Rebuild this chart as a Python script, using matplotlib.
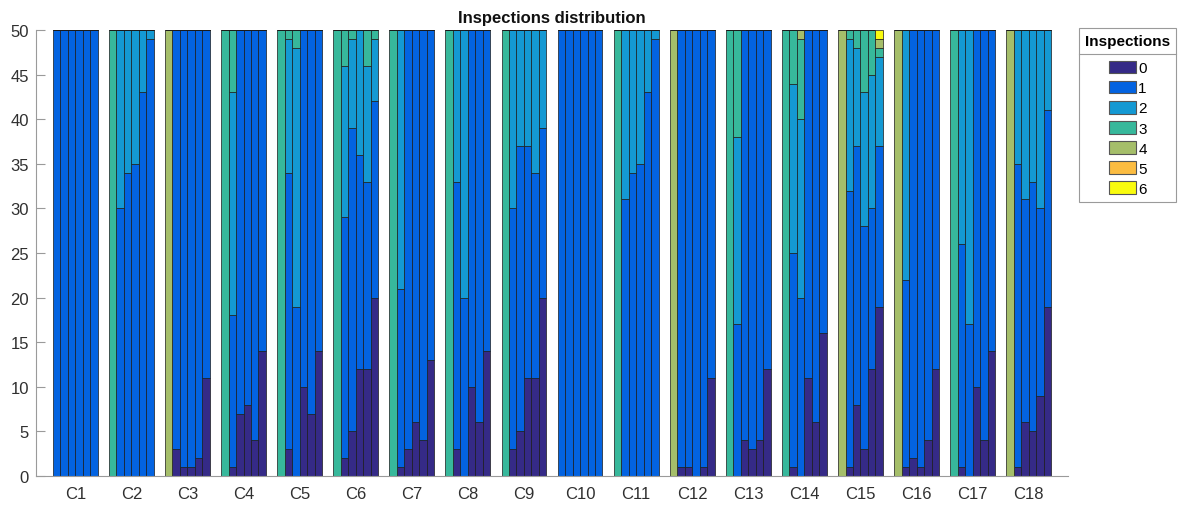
import numpy as np
import matplotlib
matplotlib.use("Agg")
import matplotlib.pyplot as plt
from matplotlib.lines import Line2D

plt.rcParams["font.family"] = ["Liberation Sans", "DejaVu Sans"]

categories = [f"C{i}" for i in range(1, 19)]
levels = ["0", "1", "2", "3", "4", "5", "6"]
colors = ["#352A87", "#0363E1", "#1499D3", "#37B89B", "#A5BE6A", "#FBBC41", "#F9FB0E"]

# Number of items with each inspection count; rows = C1..C18, columns = the six bars of a group
count_0 = [
    [0, 0, 0, 0, 0, 0], [0, 0, 0, 0, 0, 0], [0, 3, 1, 1, 2, 11], [0, 1, 7, 8, 4, 14],
    [0, 3, 0, 10, 7, 14], [0, 2, 5, 12, 12, 20], [0, 1, 3, 6, 4, 13], [0, 3, 0, 10, 6, 14],
    [0, 3, 5, 11, 11, 20], [0, 0, 0, 0, 0, 0], [0, 0, 0, 0, 0, 0], [0, 1, 1, 0, 1, 11],
    [0, 0, 4, 3, 4, 12], [0, 1, 0, 11, 6, 16], [0, 1, 8, 3, 12, 19], [0, 1, 2, 1, 4, 12],
    [0, 1, 0, 10, 4, 14], [0, 1, 6, 5, 9, 19],
]
count_1 = [
    [50, 50, 50, 50, 50, 50], [0, 30, 34, 35, 43, 49], [0, 47, 49, 49, 48, 39], [0, 17, 43, 42, 46, 36],
    [0, 31, 19, 40, 43, 36], [0, 27, 34, 24, 21, 22], [0, 20, 47, 44, 46, 37], [0, 30, 20, 40, 44, 36],
    [0, 27, 32, 26, 23, 19], [50, 50, 50, 50, 50, 50], [0, 31, 34, 35, 43, 49], [0, 49, 49, 50, 49, 39],
    [0, 17, 46, 47, 46, 38], [0, 24, 20, 39, 44, 34], [0, 31, 29, 25, 18, 18], [0, 21, 48, 49, 46, 38],
    [0, 25, 17, 40, 46, 36], [0, 34, 25, 28, 21, 22],
]
count_2 = [
    [0, 0, 0, 0, 0, 0], [0, 20, 16, 15, 7, 1], [0, 0, 0, 0, 0, 0], [0, 25, 0, 0, 0, 0],
    [0, 15, 29, 0, 0, 0], [0, 17, 10, 14, 13, 7], [0, 29, 0, 0, 0, 0], [0, 17, 30, 0, 0, 0],
    [0, 20, 13, 13, 16, 11], [0, 0, 0, 0, 0, 0], [0, 19, 16, 15, 7, 1], [0, 0, 0, 0, 0, 0],
    [0, 21, 0, 0, 0, 0], [0, 19, 20, 0, 0, 0], [0, 17, 11, 15, 15, 10], [0, 28, 0, 0, 0, 0],
    [0, 24, 33, 0, 0, 0], [0, 15, 19, 17, 20, 9],
]
count_3 = [
    [0, 0, 0, 0, 0, 0], [50, 0, 0, 0, 0, 0], [0, 0, 0, 0, 0, 0], [50, 7, 0, 0, 0, 0],
    [50, 1, 2, 0, 0, 0], [50, 4, 1, 0, 4, 1], [50, 0, 0, 0, 0, 0], [50, 0, 0, 0, 0, 0],
    [50, 0, 0, 0, 0, 0], [0, 0, 0, 0, 0, 0], [50, 0, 0, 0, 0, 0], [0, 0, 0, 0, 0, 0],
    [50, 12, 0, 0, 0, 0], [50, 6, 9, 0, 0, 0], [0, 1, 2, 7, 5, 1], [0, 0, 0, 0, 0, 0],
    [50, 0, 0, 0, 0, 0], [0, 0, 0, 0, 0, 0],
]
count_4 = [
    [0, 0, 0, 0, 0, 0], [0, 0, 0, 0, 0, 0], [50, 0, 0, 0, 0, 0], [0, 0, 0, 0, 0, 0],
    [0, 0, 0, 0, 0, 0], [0, 0, 0, 0, 0, 0], [0, 0, 0, 0, 0, 0], [0, 0, 0, 0, 0, 0],
    [0, 0, 0, 0, 0, 0], [0, 0, 0, 0, 0, 0], [0, 0, 0, 0, 0, 0], [50, 0, 0, 0, 0, 0],
    [0, 0, 0, 0, 0, 0], [0, 0, 1, 0, 0, 0], [50, 0, 0, 0, 0, 1], [50, 0, 0, 0, 0, 0],
    [0, 0, 0, 0, 0, 0], [50, 0, 0, 0, 0, 0],
]
count_5 = [[0, 0, 0, 0, 0, 0] for _ in range(18)]
count_6 = [
    [0, 0, 0, 0, 0, 0], [0, 0, 0, 0, 0, 0], [0, 0, 0, 0, 0, 0], [0, 0, 0, 0, 0, 0],
    [0, 0, 0, 0, 0, 0], [0, 0, 0, 0, 0, 0], [0, 0, 0, 0, 0, 0], [0, 0, 0, 0, 0, 0],
    [0, 0, 0, 0, 0, 0], [0, 0, 0, 0, 0, 0], [0, 0, 0, 0, 0, 0], [0, 0, 0, 0, 0, 0],
    [0, 0, 0, 0, 0, 0], [0, 0, 0, 0, 0, 0], [0, 0, 0, 0, 0, 1], [0, 0, 0, 0, 0, 0],
    [0, 0, 0, 0, 0, 0], [0, 0, 0, 0, 0, 0],
]
counts = [count_0, count_1, count_2, count_3, count_4, count_5, count_6]

fig = plt.figure(figsize=(11.78, 5.10), dpi=100)
ax = fig.add_axes([36 / 1178, 33 / 510, (1068 - 36) / 1178, (477 - 31) / 510])

n_groups = len(categories)
n_bars = 6
group_width = 0.8
bar_w = group_width / n_bars
centers = np.arange(1, n_groups + 1)
offsets = (np.arange(n_bars) - (n_bars - 1) / 2) * bar_w
x = (centers[:, None] + offsets[None, :]).ravel()

bottom = np.zeros(n_groups * n_bars)
for lvl, col, cnt in zip(levels, colors, counts):
    h = np.asarray(cnt, dtype=float).ravel()
    ax.bar(x, h, width=bar_w, bottom=bottom, color=col, edgecolor="#1a1a1a",
           linewidth=0.5, label=lvl, align="center")
    bottom += h

ax.set_xlim(0.30, 18.70)
ax.set_ylim(0, 50)
ax.set_yticks(np.arange(0, 51, 5))
ax.set_xticks(centers)
ax.set_xticklabels(categories)

for s in ("top", "right"):
    ax.spines[s].set_visible(False)
for s in ("left", "bottom"):
    ax.spines[s].set_color("#9a9a9a")
    ax.spines[s].set_linewidth(0.8)
ax.tick_params(axis="y", direction="in", length=6.5, width=0.8, color="#9a9a9a",
               labelsize=12, labelcolor="#303030", pad=5)
ax.tick_params(axis="x", length=0, labelsize=12, labelcolor="#303030", pad=7)

ax.set_title("Inspections distribution", fontsize=12, fontweight="bold", color="#111111")

leg = fig.legend(loc="upper left", bbox_to_anchor=(1079 / 1178, 1 - 29 / 510),
                 borderaxespad=0, fancybox=False, framealpha=1, edgecolor="#9a9a9a",
                 fontsize=11, title="Inspections", title_fontproperties={"size": 11, "weight": "bold"},
                 handlelength=1.8, handleheight=0.9, handletextpad=0.15, labelspacing=0.36,
                 borderpad=0.4)
leg._legend_box.sep = 9.0  # extra room between title and entries for the rule
leg.get_frame().set_linewidth(0.8)
for p in leg.get_patches():
    p.set_edgecolor("#555555")
    p.set_linewidth(0.8)

# rule under the legend title, halfway between the title and the first entry
fig.canvas.draw()
inv = fig.transFigure.inverted()
fb = leg.get_frame().get_window_extent()
tb = leg.get_title().get_window_extent()
first = leg.get_patches()[0].get_window_extent()
y_line = 0.5 * (tb.y0 + first.y1)
(x0, y0) = inv.transform((fb.x0, y_line))
(x1, _) = inv.transform((fb.x1, y_line))
fig.add_artist(Line2D([x0, x1], [y0, y0], transform=fig.transFigure, color="#9a9a9a",
                      linewidth=0.8, zorder=10))

fig.savefig("out.png", dpi=100)
